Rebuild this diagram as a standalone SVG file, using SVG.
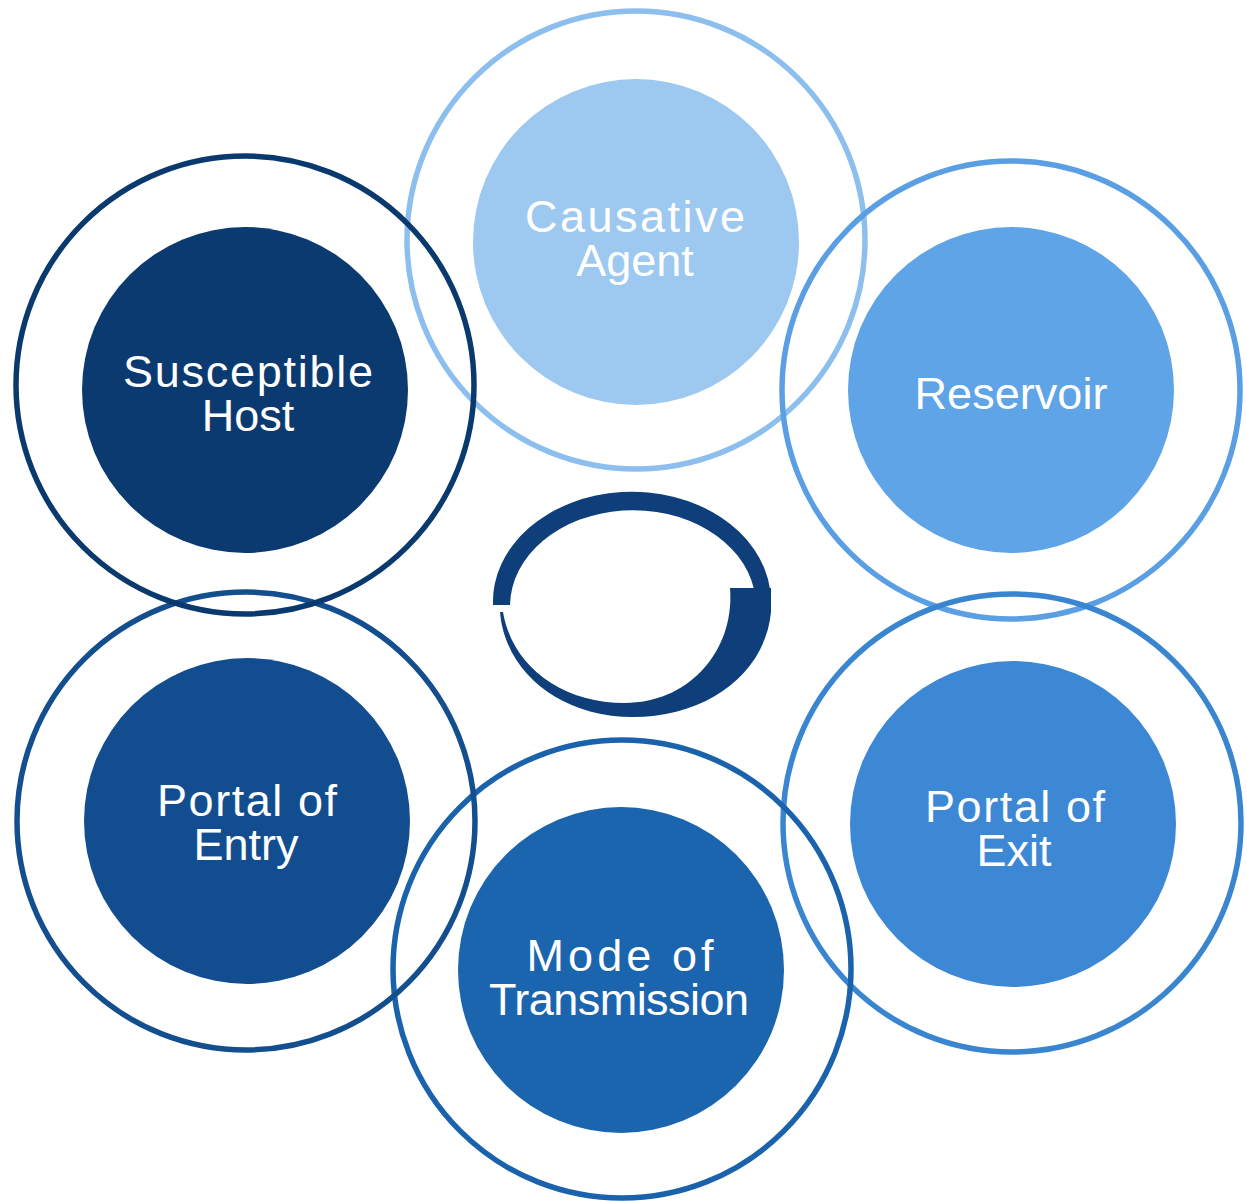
<svg xmlns="http://www.w3.org/2000/svg" width="1247" height="1201" viewBox="0 0 1247 1201">
<style>
.ring{fill:none;stroke-width:5.5}
.lbl{font-family:"Liberation Sans",Arial,sans-serif;font-size:45px;fill:#ffffff;text-anchor:middle}
</style>
<rect width="1247" height="1201" fill="#ffffff"/>
<g id="connectors">
<path id="cycle-arrow" fill="#0E3F7A" d="M 493 605 A 139 110 0 0 1 770 589 L 754 589 A 123 96 0 0 0 510 605 Z M 730 588 L 771 588 L 771 612 C 765 675 705 717 633 717 C 560 717 505 672 500 612 L 503 612 C 512 665 560 703 625 703 C 690 703 735 650 730 588 Z"/>
</g>
<g id="node-causative-agent">
<circle class="ring" cx="636" cy="240" r="229" stroke="#8DBFEE"/>
<circle cx="636" cy="242" r="163" fill="#9DC9F1"/>
<text class="lbl" x="635" y="232" textLength="220" lengthAdjust="spacing">Causative</text>
<text class="lbl" x="635" y="276">Agent</text>
</g>
<g id="node-reservoir">
<circle class="ring" cx="1011" cy="390" r="229" stroke="#5A9FE3"/>
<circle cx="1011" cy="390" r="163" fill="#5EA4E7"/>
<text class="lbl" x="1011" y="409" textLength="193" lengthAdjust="spacing">Reservoir</text>
</g>
<g id="node-portal-of-exit">
<circle class="ring" cx="1012" cy="823" r="229" stroke="#3A85D0"/>
<circle cx="1013" cy="824" r="163" fill="#3C88D4"/>
<text class="lbl" x="1015" y="822" textLength="180" lengthAdjust="spacing">Portal of</text>
<text class="lbl" x="1014" y="866">Exit</text>
</g>
<g id="node-mode-of-transmission">
<circle class="ring" cx="622" cy="969" r="229" stroke="#1A62AC"/>
<circle cx="621" cy="970" r="163" fill="#1B64AE"/>
<text class="lbl" x="620" y="971" textLength="187" lengthAdjust="spacing">Mode of</text>
<text class="lbl" x="619" y="1015" textLength="260" lengthAdjust="spacing">Transmission</text>
</g>
<g id="node-portal-of-entry">
<circle class="ring" cx="246" cy="821" r="229" stroke="#134F8E"/>
<circle cx="247" cy="821" r="163" fill="#124E8F"/>
<text class="lbl" x="247" y="816" textLength="180" lengthAdjust="spacing">Portal of</text>
<text class="lbl" x="246" y="860">Entry</text>
</g>
<g id="node-susceptible-host">
<circle class="ring" cx="245" cy="385" r="229" stroke="#0A396E"/>
<circle cx="245" cy="390" r="163" fill="#0B3A70"/>
<text class="lbl" x="248" y="387" textLength="250" lengthAdjust="spacing">Susceptible</text>
<text class="lbl" x="248" y="431">Host</text>
</g>
</svg>
